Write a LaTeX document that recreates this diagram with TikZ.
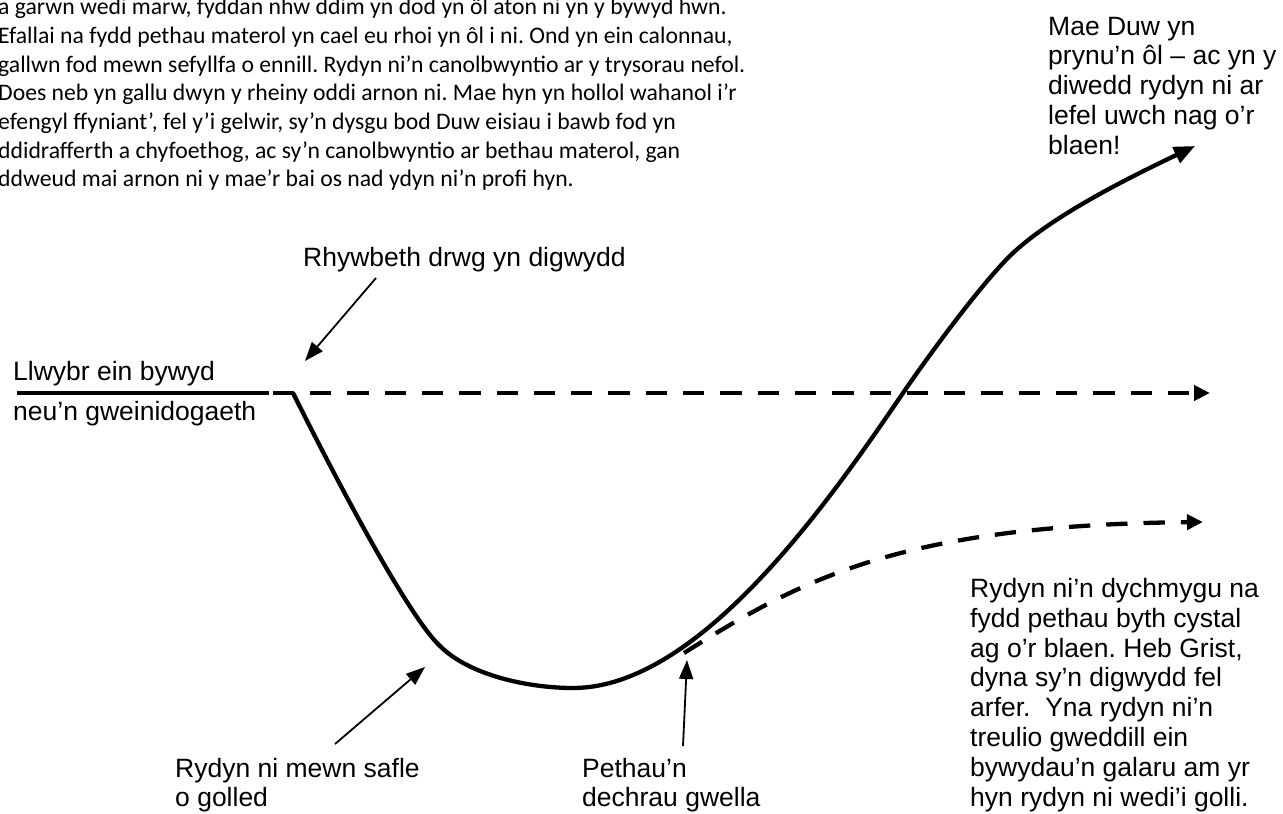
\documentclass[tikz,border=0pt]{standalone}
\usepackage{fontspec}
\setmainfont{Liberation Sans}
\newfontfamily\calibfont{Carlito}
\usetikzlibrary{arrows.meta}
\frenchspacing
\begin{document}
\begin{tikzpicture}[x=1pt,y=-1pt,
  lbl/.style={font=\fontsize{26.5}{29.8}\selectfont, inner sep=0pt, anchor=base west, align=left},
  para/.style={font=\calibfont\fontsize{23.7}{28.7}\selectfont, inner sep=0pt, anchor=base west, align=left},
  mainline/.style={line width=4.3pt},
  dashpat/.style={dash pattern=on 21.3pt off 16pt},
  bigtip/.style={-{Triangle[length=21pt,width=17pt]}},
  dashtip/.style={-{Triangle[length=16pt,width=15pt]}},
  annot/.style={line width=1.8pt, -{Triangle[length=19pt,width=14pt]}}]
\useasboundingbox (0,0) rectangle (1283,814);
\fill[white] (0,0) rectangle (1283,814);
\clip (0,0) rectangle (1283,814);

% texts (multi-line nodes: base anchor = baseline of the last line)
\node[para] (story) at (-2,186.8) {a garwn wedi marw, fyddan nhw ddim yn dod yn ôl aton ni yn y bywyd hwn.\\
Efallai na fydd pethau materol yn cael eu rhoi yn ôl i ni. Ond yn ein calonnau,\\
gallwn fod mewn sefyllfa o ennill. Rydyn ni’n canolbwyntio ar y trysorau nefol.\\
Does neb yn gallu dwyn y rheiny oddi arnon ni. Mae hyn yn hollol wahanol i’r\\
efengyl ffyniant’, fel y’i gelwir, sy’n dysgu bod Duw eisiau i bawb fod yn\\
ddidrafferth a chyfoethog, ac sy’n canolbwyntio ar bethau materol, gan\\
ddweud mai arnon ni y mae’r bai os nad ydyn ni’n profi hyn.};

\node[lbl] (top) at (1048,154.2) {Mae Duw yn\\prynu’n ôl – ac yn y\\diwedd rydyn ni ar\\lefel uwch nag o’r\\blaen!};
\node[lbl] (bad) at (303,266.7) {Rhywbeth drwg yn digwydd};
\node[lbl] (path1) at (13,380.7) {Llwybr ein bywyd};
\node[lbl] (path2) at (13,420) {neu’n gweinidogaeth};
\node[lbl] (loss) at (175,806.8) {Rydyn ni mewn safle\\o golled};
\node[lbl] (better) at (582,806.8) {Pethau’n\\dechrau gwella};
\node[lbl] (grief) at (970,806) {Rydyn ni’n dychmygu na\\fydd pethau byth cystal\\ag o’r blaen. Heb Grist,\\dyna sy’n digwydd fel\\arfer.\ \ Yna rydyn ni’n\\treulio gweddill ein\\bywydau’n galaru am yr\\hyn rydyn ni wedi’i golli.};

% key points
\coordinate (lineL) at (17.3,393);
\coordinate (lineR) at (269.3,393);
\coordinate (dashS) at (272.7,393);
\coordinate (dashE) at (1210,393);
\coordinate (kink) at (293,393);
\coordinate (low1) at (440,646);
\coordinate (bottom) at (573,688);
\coordinate (cross) at (903,393);
\coordinate (rise) at (1013,253);
\coordinate (high) at (1195,146);
\coordinate (branch) at (684,653);
\coordinate (flat) at (1203,522);
\coordinate (badtail) at (376,278);
\coordinate (badtip) at (305,361);
\coordinate (losstail) at (335,744);
\coordinate (losstip) at (425,667);
\coordinate (bettertail) at (683,746);
\coordinate (bettertip) at (687,660);

% main lines
\draw[mainline] (lineL) -- (lineR);
\draw[mainline, dashpat, dashtip] (dashS) -- (dashE);
\draw[mainline, bigtip] (kink) .. controls (350,507) and (412,620) .. (low1)
  .. controls (470,676) and (530,688) .. (bottom)
  .. controls (700,688) and (830,500) .. (cross)
  .. controls (928.4,355.8) and (984,280) .. (rise)
  .. controls (1057,212) and (1141,172) .. (high);
\draw[mainline, dashpat, dashtip] (branch) .. controls (800,580) and (900,525) .. (flat);

% annotation arrows
\draw[annot] (badtail) -- (badtip);
\draw[annot] (losstail) -- (losstip);
\draw[annot] (bettertail) -- (bettertip);
\end{tikzpicture}
\end{document}
